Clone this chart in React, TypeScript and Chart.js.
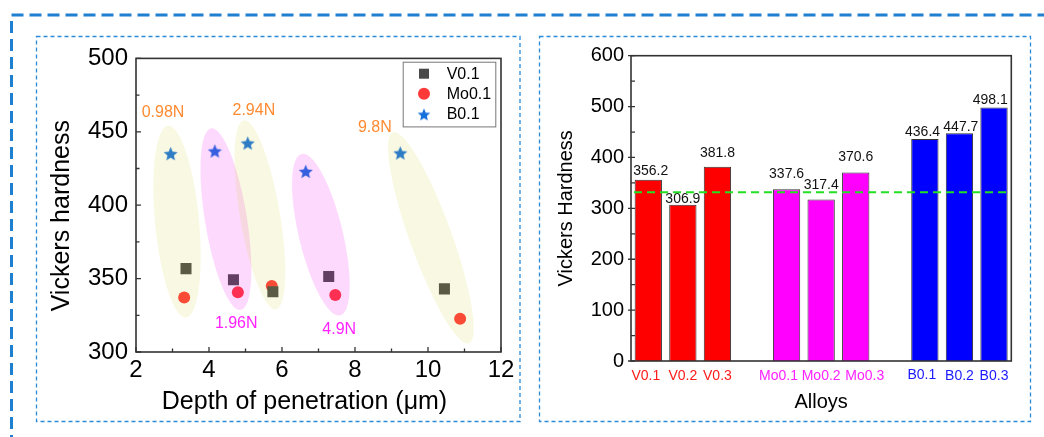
import React, { useEffect, useRef } from 'react';
import { Chart, registerables } from 'chart.js';

Chart.register(...registerables);

const FONT = "'Liberation Sans', Arial, Helvetica, sans-serif";

// ---------- Left panel data: hardness vs. depth of penetration ----------
const loads = ['0.98N', '1.96N', '2.94N', '4.9N', '9.8N'];
const depthV = [3.37, 4.67, 5.75, 7.28, 10.45];
const hardV = [356.8, 349.2, 341.1, 351.5, 343.0];
const depthMo = [3.32, 4.79, 5.72, 7.46, 10.88];
const hardMo = [337.1, 340.7, 345.0, 338.9, 322.6];
const depthB = [2.95, 4.16, 5.06, 6.65, 9.24];
const hardB = [435.1, 436.9, 442.3, 423.0, 435.6];
const depthTicksMajor = [2, 4, 6, 8, 10, 12];
const hardTicksMajor = [300, 350, 400, 450, 500];

// ---------- Right panel data: hardness of each alloy ----------
const alloys = ['V0.1', 'V0.2', 'V0.3', '', 'Mo0.1', 'Mo0.2', 'Mo0.3', '', 'B0.1', 'B0.2', 'B0.3'];
const alloyHardness = [356.2, 306.9, 381.8, null, 337.6, 317.4, 370.6, null, 436.4, 447.7, 498.1];
const referenceHardness = 331.5;
const hardnessTicks = [0, 100, 200, 300, 400, 500, 600];

// ---------- Styles ----------
const GROUP_COLORS = ['#ff0000', '#ff0000', '#ff0000', '#ffffff', '#ff00ff', '#ff00ff', '#ff00ff', '#ffffff', '#0000ff', '#0000ff', '#0000ff'];
const TICK_COLORS = ['#ff1a1a', '#ff1a1a', '#ff1a1a', '#000', '#ff22ff', '#ff22ff', '#ff22ff', '#000', '#1a1aff', '#1a1aff', '#1a1aff'];
const TICK_DX = [-2.5, 0, 0, 0, -8, 0, 9, 0, -3, 0, 0];
const TICK_DY = [0, 0, 0, 0, 0, 0, 0, 0, -1, 0, 0];
const BAR_LABEL_LIFT = [9, 6, 14, 0, 15, 14, 15, 0, 7, 6, 7];
const BAR_LABEL_DX = [2.4, 0, 0, 0, 0, 0, 0, 0, -2.3, 1.4, -3.7];

const ELLIPSE_STYLE = [
  { top: 28, bottom: 20, half: 22, kind: 'yellow', dx: -5, dy: -13 },
  { top: 23, bottom: 18, half: 21, kind: 'pink', dx: -4.5, dy: 14 },
  { top: 23, bottom: 18, half: 20, kind: 'yellow', dx: 10, dy: -10 },
  { top: 18, bottom: 21, half: 22, kind: 'pink', dx: -1, dy: 14.5 },
  { top: 22, bottom: 26, half: 21, kind: 'yellow', dx: -18, dy: -5 },
];

const W = 1044;
const H = 437;
const LEFT_BOX = { x: 36, y: 36, w: 484, h: 386 };
const RIGHT_BOX = { x: 539, y: 36, w: 492, h: 386 };

function makeStar(color: string, outer: number, inner: number): HTMLCanvasElement {
  const size = Math.ceil(outer * 2 + 2);
  const c = document.createElement('canvas');
  c.width = size;
  c.height = size;
  const ctx = c.getContext('2d')!;
  ctx.translate(size / 2, size / 2 + outer * 0.095);
  ctx.beginPath();
  for (let i = 0; i < 10; i++) {
    const r = i % 2 === 0 ? outer : inner;
    const a = -Math.PI / 2 + (i * Math.PI) / 5;
    ctx.lineTo(r * Math.cos(a), r * Math.sin(a));
  }
  ctx.closePath();
  ctx.fillStyle = color;
  ctx.fill();
  return c;
}

function drawFrame(ctx: CanvasRenderingContext2D, area: any) {
  ctx.save();
  ctx.strokeStyle = '#333';
  ctx.lineWidth = 1.6;
  ctx.strokeRect(area.left, area.top, area.right - area.left, area.bottom - area.top);
  ctx.restore();
}

function midpoints(vals: number[]) {
  const out: number[] = [];
  for (let i = 0; i < vals.length - 1; i++) out.push((vals[i] + vals[i + 1]) / 2);
  return out;
}

function rotatedText(ctx: CanvasRenderingContext2D, text: string, x: number, y: number, font: string) {
  ctx.save();
  ctx.translate(x, y);
  ctx.rotate(-Math.PI / 2);
  ctx.font = font;
  ctx.fillStyle = '#000';
  ctx.textAlign = 'center';
  ctx.textBaseline = 'middle';
  ctx.fillText(text, 0, 0);
  ctx.restore();
}

export default function App() {
  const bgRef = useRef<HTMLCanvasElement>(null);
  const leftRef = useRef<HTMLCanvasElement>(null);
  const rightRef = useRef<HTMLCanvasElement>(null);

  useEffect(() => {
    // background dashed frames
    const bg = bgRef.current!;
    const g = bg.getContext('2d')!;
    g.clearRect(0, 0, W, H);
    g.strokeStyle = '#1f7fd0';
    g.lineWidth = 3;
    g.setLineDash([12, 6]);
    g.beginPath();
    g.moveTo(11.5, H + 10);
    g.lineTo(11.5, 15);
    g.lineTo(W + 10, 15);
    g.stroke();
    g.strokeStyle = '#2a8ad8';
    g.lineWidth = 1.3;
    g.setLineDash([4, 3]);
    g.strokeRect(36.5, 36.5, 483.5, 385);
    g.strokeRect(539.5, 36.5, 491, 385);

    const starImg = makeStar('#1670dc', 7.4, 3.4);
    const legendStar = makeStar('#1670dc', 6.6, 3.0);

    const leftPlugin = {
      id: 'leftDecor',
      afterDatasetsDraw(chart: any) {
        const ctx: CanvasRenderingContext2D = chart.ctx;
        const xs = chart.scales.x;
        const ys = chart.scales.y;
        const area = chart.chartArea;
        // ellipses around each load group
        loads.forEach((load, i) => {
          const st = ELLIPSE_STYLE[i];
          const top = { x: xs.getPixelForValue(depthB[i]), y: ys.getPixelForValue(hardB[i]) };
          const pv = { x: xs.getPixelForValue(depthV[i]), y: ys.getPixelForValue(hardV[i]) };
          const pm = { x: xs.getPixelForValue(depthMo[i]), y: ys.getPixelForValue(hardMo[i]) };
          const bot = pv.y > pm.y ? pv : pm;
          const dx = bot.x - top.x;
          const dy = bot.y - top.y;
          const len = Math.hypot(dx, dy);
          const ux = dx / len;
          const uy = dy / len;
          const e1 = { x: top.x - ux * st.top, y: top.y - uy * st.top };
          const e2 = { x: bot.x + ux * st.bottom, y: bot.y + uy * st.bottom };
          const cx = (e1.x + e2.x) / 2;
          const cy = (e1.y + e2.y) / 2;
          const a = Math.hypot(e2.x - e1.x, e2.y - e1.y) / 2;
          ctx.save();
          ctx.beginPath();
          ctx.ellipse(cx, cy, a, st.half, Math.atan2(dy, dx), 0, Math.PI * 2);
          ctx.fillStyle = st.kind === 'yellow' ? 'rgba(205,205,40,0.13)' : 'rgba(240,0,240,0.15)';
          ctx.fill();
          ctx.restore();
          // load label
          const anchor = st.kind === 'yellow' ? e1 : e2;
          ctx.save();
          ctx.font = `16px ${FONT}`;
          ctx.fillStyle = st.kind === 'yellow' ? '#ff8a30' : '#ff22ff';
          ctx.textAlign = 'center';
          ctx.textBaseline = 'middle';
          ctx.fillText(load, anchor.x + st.dx, anchor.y + st.dy);
          ctx.restore();
        });

        drawFrame(ctx, area);
        // inward ticks
        ctx.save();
        ctx.strokeStyle = '#333';
        ctx.lineWidth = 1.3;
        ctx.beginPath();
        depthTicksMajor.forEach((v) => {
          const px = xs.getPixelForValue(v);
          ctx.moveTo(px, area.bottom);
          ctx.lineTo(px, area.bottom - 5);
        });
        midpoints(depthTicksMajor).forEach((v) => {
          const px = xs.getPixelForValue(v);
          ctx.moveTo(px, area.bottom);
          ctx.lineTo(px, area.bottom - 3.5);
        });
        hardTicksMajor.forEach((v) => {
          const py = ys.getPixelForValue(v);
          ctx.moveTo(area.left, py);
          ctx.lineTo(area.left + 5, py);
        });
        midpoints(hardTicksMajor).forEach((v) => {
          const py = ys.getPixelForValue(v);
          ctx.moveTo(area.left, py);
          ctx.lineTo(area.left + 3.5, py);
        });
        ctx.stroke();
        ctx.restore();

        // axis titles
        rotatedText(ctx, 'Vickers hardness', area.left - 73.5, (area.top + area.bottom) / 2 + 10.5, `25px ${FONT}`);
        ctx.save();
        ctx.font = `25px ${FONT}`;
        ctx.fillStyle = '#000';
        ctx.textAlign = 'center';
        ctx.textBaseline = 'middle';
        ctx.fillText('Depth of penetration (\u03bcm)', (area.left + area.right) / 2 - 14, area.bottom + 49.7);
        ctx.restore();

        // legend
        const bw = 92.6;
        const bh = 64.7;
        const bx = area.right - 5.7 - bw;
        const by = area.top + 3.3;
        ctx.save();
        ctx.fillStyle = '#fff';
        ctx.fillRect(bx, by, bw, bh);
        ctx.strokeStyle = '#777';
        ctx.lineWidth = 1;
        ctx.strokeRect(bx + 0.5, by + 0.5, bw, bh);
        const rows = [12, 32, 52.7];
        chart.data.datasets.forEach((ds: any, i: number) => {
          const mx = bx + 21.3;
          const my = by + rows[i];
          if (i === 0) {
            ctx.fillStyle = ds.backgroundColor;
            ctx.fillRect(mx - 5, my - 5, 10, 10);
          } else if (i === 1) {
            ctx.fillStyle = ds.backgroundColor;
            ctx.beginPath();
            ctx.arc(mx, my, 6, 0, Math.PI * 2);
            ctx.fill();
          } else {
            ctx.drawImage(legendStar, mx - legendStar.width / 2, my - legendStar.height / 2);
          }
          ctx.fillStyle = '#000';
          ctx.font = `16px ${FONT}`;
          ctx.textAlign = 'left';
          ctx.textBaseline = 'middle';
          ctx.fillText(ds.label, bx + 44, my + 0.5);
        });
        ctx.restore();
      },
    };

    const left = new Chart(leftRef.current!, {
      type: 'scatter',
      data: {
        datasets: [
          {
            label: 'V0.1',
            data: depthV.map((x, i) => ({ x, y: hardV[i] })),
            pointStyle: 'rect',
            pointRadius: 7.8,
            backgroundColor: '#4a4a4a',
            borderWidth: 0,
          },
          {
            label: 'Mo0.1',
            data: depthMo.map((x, i) => ({ x, y: hardMo[i] })),
            pointStyle: 'circle',
            pointRadius: 6,
            backgroundColor: '#ff3838',
            borderWidth: 0,
          },
          {
            label: 'B0.1',
            data: depthB.map((x, i) => ({ x, y: hardB[i] })),
            pointStyle: starImg as any,
            pointRadius: 7,
            backgroundColor: '#1670dc',
            borderWidth: 0,
          },
        ],
      },
      options: {
        responsive: false,
        animation: false,
        events: [],
        layout: { padding: { top: 18, right: 19, left: 0, bottom: 0 } },
        plugins: { legend: { display: false }, tooltip: { enabled: false } },
        scales: {
          x: {
            type: 'linear',
            min: 2,
            max: 12,
            ticks: { stepSize: 2, color: '#000', padding: 4, maxRotation: 0, font: { family: FONT, size: 24 } },
            grid: { display: false, drawTicks: false },
            border: { display: false },
            afterFit: (s: any) => {
              s.height = 70;
            },
          },
          y: {
            type: 'linear',
            min: 300,
            max: 500,
            ticks: { stepSize: 50, color: '#000', padding: 8, font: { family: FONT, size: 24 } },
            grid: { display: false, drawTicks: false },
            border: { display: false },
            afterFit: (s: any) => {
              s.width = 100;
            },
          },
        },
      },
      plugins: [leftPlugin],
    } as any);

    const rightPlugin = {
      id: 'rightDecor',
      afterDatasetsDraw(chart: any) {
        const ctx: CanvasRenderingContext2D = chart.ctx;
        const xs = chart.scales.x;
        const ys = chart.scales.y;
        const area = chart.chartArea;
        const meta = chart.getDatasetMeta(0);
        // value labels
        ctx.save();
        ctx.font = `14px ${FONT}`;
        ctx.fillStyle = '#111';
        ctx.textAlign = 'center';
        ctx.textBaseline = 'middle';
        alloyHardness.forEach((v, i) => {
          if (v === null) return;
          const bar = meta.data[i];
          ctx.fillText(v.toFixed(1), bar.x + BAR_LABEL_DX[i], bar.y - BAR_LABEL_LIFT[i]);
        });
        ctx.restore();
        // reference dashed line
        const ry = ys.getPixelForValue(referenceHardness);
        ctx.save();
        ctx.strokeStyle = '#22e022';
        ctx.lineWidth = 2;
        ctx.setLineDash([8, 5]);
        ctx.beginPath();
        ctx.moveTo(area.left + 3, ry);
        ctx.lineTo(area.right - 2, ry);
        ctx.stroke();
        ctx.restore();

        drawFrame(ctx, area);
        ctx.save();
        ctx.strokeStyle = '#333';
        ctx.lineWidth = 1.3;
        ctx.beginPath();
        hardnessTicks.forEach((v) => {
          const py = ys.getPixelForValue(v);
          ctx.moveTo(area.left - 3, py);
          ctx.lineTo(area.left + 4, py);
        });
        midpoints(hardnessTicks).forEach((v) => {
          const py = ys.getPixelForValue(v);
          ctx.moveTo(area.left, py);
          ctx.lineTo(area.left + 4, py);
        });
        ctx.stroke();
        ctx.restore();

        // category labels
        ctx.save();
        ctx.font = `14px ${FONT}`;
        ctx.textAlign = 'center';
        ctx.textBaseline = 'middle';
        alloys.forEach((name, i) => {
          if (!name) return;
          ctx.fillStyle = TICK_COLORS[i];
          ctx.fillText(name, xs.getPixelForValue(i) + TICK_DX[i], area.bottom + 15 + TICK_DY[i]);
        });
        ctx.restore();

        rotatedText(ctx, 'Vickers Hardness', area.left - 65, (area.top + area.bottom) / 2, `20px ${FONT}`);
        ctx.save();
        ctx.font = `20px ${FONT}`;
        ctx.fillStyle = '#000';
        ctx.textAlign = 'center';
        ctx.textBaseline = 'middle';
        ctx.fillText('Alloys', (area.left + area.right) / 2, area.bottom + 41.7);
        ctx.restore();
      },
    };

    const right = new Chart(rightRef.current!, {
      type: 'bar',
      data: {
        labels: alloys,
        datasets: [
          {
            label: 'Vickers Hardness',
            data: alloyHardness,
            backgroundColor: GROUP_COLORS,
            borderColor: '#333',
            borderWidth: 1,
            barPercentage: 0.79,
            categoryPercentage: 1,
          },
        ],
      },
      options: {
        responsive: false,
        animation: false,
        events: [],
        layout: { padding: { top: 19.7, right: 19.7, left: 0, bottom: 0 } },
        plugins: { legend: { display: false }, tooltip: { enabled: false } },
        scales: {
          x: {
            type: 'category',
            offset: true,
            ticks: { display: false },
            grid: { display: false, drawTicks: false },
            border: { display: false },
            afterFit: (s: any) => {
              s.height = 61;
            },
          },
          y: {
            type: 'linear',
            min: 0,
            max: 600,
            ticks: { stepSize: 100, color: '#000', padding: 7, font: { family: FONT, size: 20 } },
            grid: { display: false, drawTicks: false },
            border: { display: false },
            afterFit: (s: any) => {
              s.width = 92;
            },
          },
        },
      },
      plugins: [rightPlugin],
    } as any);

    return () => {
      left.destroy();
      right.destroy();
    };
  }, []);

  return (
    <div style={{ position: 'absolute', left: 0, top: 0, width: W, height: H, background: '#fff', overflow: 'hidden' }}>
      <canvas ref={bgRef} width={W} height={H} style={{ position: 'absolute', left: 0, top: 0, width: W, height: H }} />
      <canvas
        ref={leftRef}
        width={LEFT_BOX.w}
        height={LEFT_BOX.h}
        style={{ position: 'absolute', left: LEFT_BOX.x, top: LEFT_BOX.y, width: LEFT_BOX.w, height: LEFT_BOX.h }}
      />
      <canvas
        ref={rightRef}
        width={RIGHT_BOX.w}
        height={RIGHT_BOX.h}
        style={{ position: 'absolute', left: RIGHT_BOX.x, top: RIGHT_BOX.y, width: RIGHT_BOX.w, height: RIGHT_BOX.h }}
      />
    </div>
  );
}
